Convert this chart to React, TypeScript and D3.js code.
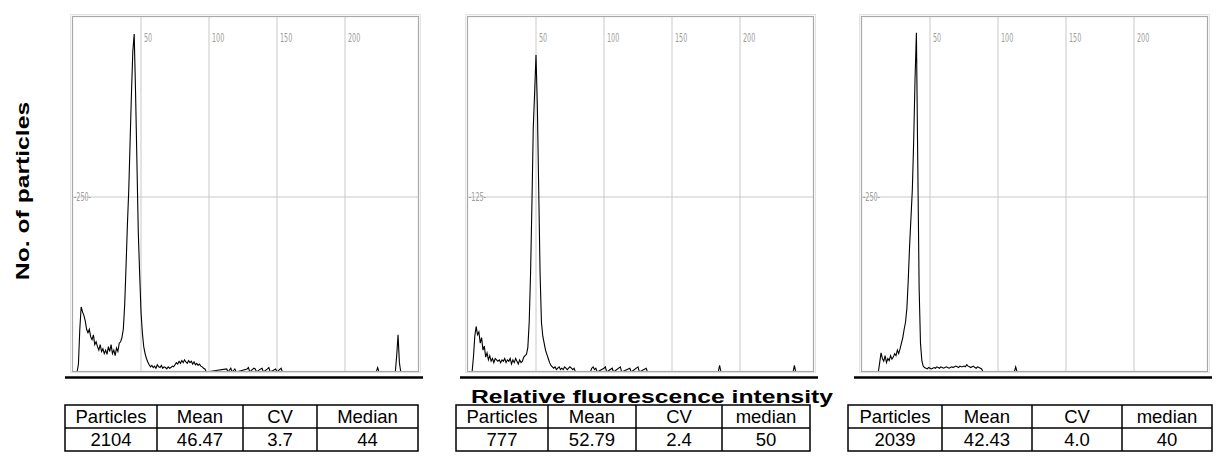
import React from "react";
import * as d3 from "d3";

// ---------- data ----------
// Histogram counts per channel, written as a start channel plus consecutive counts; other channels are 0.
const panel1Start = 3;
const panel1Counts = [
  0, 10, 60, 92, 85, 80, 72, 60, 55, 60, 49, 45, 52, 38, 42, 35, 30, 38, 28, 32, 25, 30, 24, 35, 28,
  38, 25, 30, 22, 33, 28, 40, 42, 48, 60, 95, 150, 210, 260, 330, 400, 460, 484, 400, 300, 200, 140,
  85, 55, 35, 25, 18, 13, 9, 6, 8, 5, 7, 4, 9, 6, 5, 8, 4, 6, 5, 3, 6, 4, 5, 7, 6, 9, 12, 10, 14, 11,
  15, 12, 16, 13, 11, 15, 12, 14, 10, 13, 9, 11, 8, 10, 7, 6, 4, 3, 0,
];
const panel1Sparse: [number, number][] = [
  [113, 3], [114, 0], [116, 4], [117, 0], [119, 3], [120, 0], [128, 3], [129, 5], [130, 0], [133, 4], [134, 3],
  [135, 0], [138, 3], [139, 4], [140, 0], [143, 3], [144, 5], [145, 0], [149, 3], [150, 0], [153, 4], [154, 0],
  [223, 0], [224, 5], [225, 0], [237, 0], [238, 22], [239, 52], [240, 12], [241, 0],
];

const panel2Start = 3;
const panel2Counts = [
  0, 10, 25, 32, 26, 28, 20, 24, 15, 18, 10, 13, 8, 11, 7, 9, 6, 9, 8, 7, 8, 6, 8, 7, 9, 6, 8, 7, 9,
  5, 8, 6, 9, 7, 5, 8, 6, 7, 10, 11, 12, 17, 35, 70, 120, 175, 200, 227, 190, 130, 70, 35, 25, 20, 15,
  12, 9, 6, 4, 3, 2, 3, 1, 2, 3, 1, 2, 1, 3, 2, 1, 2, 3, 2, 1, 2, 0,
];
const panel2Sparse: [number, number][] = [
  [90, 0], [91, 2], [92, 3], [93, 1], [94, 2], [95, 0], [100, 2], [101, 3], [102, 0], [106, 2], [107, 0],
  [112, 3], [113, 0], [119, 2], [120, 0], [125, 3], [126, 0], [131, 2], [132, 0],
  [184, 0], [185, 4], [186, 0], [239, 0], [240, 4], [241, 0],
];

const panel3Start = 12;
const panel3Counts = [
  0, 12, 26, 18, 14, 22, 12, 18, 15, 22, 17, 20, 25, 22, 30, 25, 32, 40, 48, 60, 70, 90, 130, 180, 220,
  260, 330, 420, 486, 300, 120, 40, 15, 7, 5, 4, 3, 5, 4, 3, 4, 5, 4, 6, 5, 4, 6, 5, 4, 5, 6, 5, 4, 5,
  6, 5, 6, 7, 6, 5, 7, 6, 6, 7, 6, 9, 7, 6, 5, 6, 7, 5, 4, 6, 5, 4, 3, 0,
];
const panel3Sparse: [number, number][] = [[112, 0], [113, 6], [114, 0]];

const yMaxes = [500, 250, 500];
const yMidLabels = ["250", "125", "250"];
const xTicks = [50, 100, 150, 200];

const tableHeaders = [
  ["Particles", "Mean", "CV", "Median"],
  ["Particles", "Mean", "CV", "median"],
  ["Particles", "Mean", "CV", "median"],
];
const tableValues = [
  ["2104", "46.47", "3.7", "44"],
  ["777", "52.79", "2.4", "50"],
  ["2039", "42.43", "4.0", "40"],
];

const yTitle = "No. of particles";
const xTitle = "Relative fluorescence intensity";

// ---------- helpers ----------
function buildSeries(start: number, counts: number[], sparse: [number, number][]) {
  const pts: { ch: number; v: number }[] = [];
  counts.forEach((v, i) => pts.push({ ch: start + i, v }));
  sparse.forEach(([ch, v]) => pts.push({ ch, v }));
  pts.sort((a, b) => a.ch - b.ch);
  return pts;
}

const series = [
  buildSeries(panel1Start, panel1Counts, panel1Sparse),
  buildSeries(panel2Start, panel2Counts, panel2Sparse),
  buildSeries(panel3Start, panel3Counts, panel3Sparse),
];

const frameLefts = [72, 467, 861];
const frameWidth = 347;
const frameTop = 16;
const baseY = 371;
const topY = 23;

const tableLefts = [65, 456, 848];
const tableColWidths = [
  [92, 86, 74, 101],
  [92, 88, 86, 88],
  [94, 90, 90, 90],
];
const tableTop = 405;
const rowH = 23;
const tableFont = 18.5;

function Panel({ idx }: { idx: number }) {
  const fl = frameLefts[idx];
  const x0 = fl + 1;
  const x = d3.scaleLinear().domain([0, 50]).range([x0, x0 + 68]);
  const y = d3.scaleLinear().domain([0, yMaxes[idx]]).range([baseY, topY]);
  const line = d3
    .line<{ ch: number; v: number }>()
    .x((d) => x(d.ch))
    .y((d) => (d.v === 0 ? baseY + 1 : y(d.v)));
  const pts = [{ ch: 0, v: 0 }, ...series[idx], { ch: 254, v: 0 }];
  const midY = y(yMaxes[idx] / 2);
  const fr = fl + frameWidth;
  const smallFont = "'Liberation Sans Narrow', 'DejaVu Sans Condensed', sans-serif";
  return (
    <g>
      {xTicks.map((t) => (
        <line key={t} x1={x(t)} x2={x(t)} y1={frameTop} y2={baseY} stroke="#c9c9c9" strokeWidth={1} />
      ))}
      <line x1={fl} x2={fr} y1={midY} y2={midY} stroke="#c9c9c9" strokeWidth={1} />
      {xTicks.map((t) => (
        <text
          key={"l" + t}
          x={0}
          y={0}
          transform={`translate(${x(t) + 3},${42}) scale(0.55,1)`}
          fontFamily={smallFont}
          fontSize={13}
          fill="#9c9c9c"
        >
          {t}
        </text>
      ))}
      <text
        transform={`translate(${fl + 2},${midY + 4}) scale(0.55,1)`}
        fontFamily={smallFont}
        fontSize={13}
        fill="#9c9c9c"
      >
        {"-" + yMidLabels[idx] + "-"}
      </text>
      <path d={line(pts) || ""} fill="none" stroke="#000" strokeWidth={1.1} />
      <rect x={fl - 1.5} y={frameTop - 1.5} width={frameWidth + 3} height={baseY - frameTop + 3} fill="none" stroke="#e4e4e4" strokeWidth={1} />
      <rect x={fl + 0.5} y={frameTop + 0.5} width={frameWidth - 1} height={baseY - frameTop} fill="none" stroke="#a8a8a8" strokeWidth={1.2} />
      <line x1={fl - 7} x2={fr + 4} y1={377.5} y2={377.5} stroke="#000" strokeWidth={2.5} />
    </g>
  );
}

function Table({ idx }: { idx: number }) {
  const left = tableLefts[idx];
  const widths = tableColWidths[idx];
  const edges = [left];
  widths.forEach((w) => edges.push(edges[edges.length - 1] + w));
  const right = edges[edges.length - 1];
  const font = "'Liberation Sans', Arial, sans-serif";
  const cell = (txt: string, cx: number, by: number, k: string) => (
    <text key={k} x={cx} y={by} textAnchor="middle" fontFamily={font} fontSize={tableFont}>
      {txt}
    </text>
  );
  return (
    <g>
      <rect x={left} y={tableTop} width={right - left} height={rowH * 2} fill="none" stroke="#000" strokeWidth={1.5} />
      <line x1={left} x2={right} y1={tableTop + rowH} y2={tableTop + rowH} stroke="#000" strokeWidth={1.5} />
      {edges.slice(1, -1).map((e, i) => (
        <line key={i} x1={e} x2={e} y1={tableTop} y2={tableTop + rowH * 2} stroke="#000" strokeWidth={1.5} />
      ))}
      {widths.map((w, i) => (
        <g key={i}>
          {cell(tableHeaders[idx][i], edges[i] + w / 2, tableTop + 18, "h")}
          {cell(tableValues[idx][i], edges[i] + w / 2, tableTop + rowH + 18, "v")}
        </g>
      ))}
    </g>
  );
}

export default function App() {
  return (
    <svg
      width={1224}
      height={470}
      style={{ position: "absolute", left: 0, top: 0, background: "#fff" }}
    >
      <rect width={1224} height={470} fill="#fff" />
      {[0, 1, 2].map((i) => (
        <Panel key={i} idx={i} />
      ))}
      {[0, 1, 2].map((i) => (
        <Table key={i} idx={i} />
      ))}
      <text
        transform="translate(29,191) rotate(-90) scale(1.3,1)"
        textAnchor="middle"
        fontFamily="'Liberation Sans', Arial, sans-serif"
        fontWeight="bold"
        fontSize={19}
      >
        {yTitle}
      </text>
      <text
        transform="translate(652,403) scale(1.3,1)"
        textAnchor="middle"
        fontFamily="'Liberation Sans', Arial, sans-serif"
        fontWeight="bold"
        fontSize={19}
      >
        {xTitle}
      </text>
    </svg>
  );
}
